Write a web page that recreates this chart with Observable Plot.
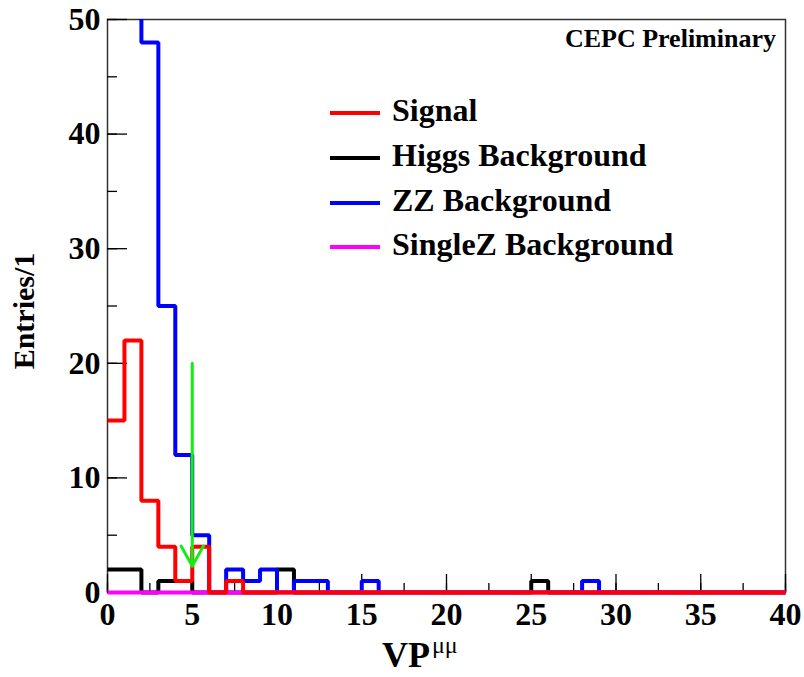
<!DOCTYPE html>
<html><head><meta charset="utf-8">
<script src="https://cdn.jsdelivr.net/npm/d3@7"></script>
<script src="https://cdn.jsdelivr.net/npm/@observablehq/plot@0.6"></script>
<style>body{margin:0;background:#fff}</style>
</head><body><div id="chart"></div>
<script>
// bin edges (bin width 1, 0..40)
const binEdges = d3.range(0, 41);
// series contents per bin (40 bins)
const signal  = [15,22,8,4,1,4,0,1,0,0, 0,0,0,0,0,0,0,0,0,0, 0,0,0,0,0,0,0,0,0,0, 0,0,0,0,0,0,0,0,0,0];
const higgs   = [2,2,0,1,1,0,0,0,0,0, 2,0,0,0,0,0,0,0,0,0, 0,0,0,0,0,1,0,0,0,0, 0,0,0,0,0,0,0,0,0,0];
const zz      = [100,70,48,25,12,5,0,2,1,2, 0,1,1,0,0,1,0,0,0,0, 0,0,0,0,0,0,0,0,1,0, 0,0,0,0,0,0,0,0,0,0];
const singleZ = [0,0,0,0,0,0,0,0,0,0, 0,0,0,0,0,0,0,0,0,0, 0,0,0,0,0,0,0,0,0,0, 0,0,0,0,0,0,0,0,0,0];

const seriesNames  = ["Signal", "Higgs Background", "ZZ Background", "SingleZ Background"];
const seriesColors = ["#ff0000", "#000000", "#0000ff", "#ff00ff"];

const xMajor = [0,5,10,15,20,25,30,35,40];
const xMinor = d3.range(0, 40.01, 2.5);
const yMajor = [0,10,20,30,40,50];
const yMinor = [0,5,10,15,20,25,30,35,40,45,50];

// cut arrow
const cutX = 5, cutTop = 20, cutTip = 2.3;

function steps(values) {
  return binEdges.map((x, i) => ({x, y: values[Math.min(i, values.length - 1)]}));
}

const font = "'Liberation Serif', 'DejaVu Serif', serif";
const lineOpts = (c) => ({x: "x", y: "y", curve: "step-after", stroke: c, strokeWidth: 4, strokeLinejoin: "miter", strokeLinecap: "butt"});

const svg = Plot.plot({
  width: 804, height: 677,
  marginLeft: 107, marginRight: 19, marginTop: 19, marginBottom: 85,
  style: {fontFamily: font, fontWeight: "bold", background: "#fff", color: "#000"},
  x: {domain: [0, 40]},
  y: {domain: [0, 50]},
  marks: [
    Plot.frame({stroke: "#333", strokeWidth: 1.5}),
    Plot.axisX({ticks: xMajor, tickSize: -18, tickFormat: () => "", label: null, strokeWidth: 1.3}),
    Plot.axisX({ticks: xMinor, tickSize: -9, tickFormat: () => "", label: null, strokeWidth: 1.3}),
    Plot.axisX({ticks: xMajor, tickSize: 0, tickPadding: 10, label: null, fontSize: 32, fontWeight: "bold", fontFamily: font}),
    Plot.axisY({ticks: yMajor, tickSize: -20, tickFormat: () => "", label: null, strokeWidth: 1.3}),
    Plot.axisY({ticks: yMinor, tickSize: -10, tickFormat: () => "", label: null, strokeWidth: 1.3}),
    Plot.axisY({ticks: yMajor, tickSize: 0, tickPadding: 7, label: null, fontSize: 32, fontWeight: "bold", fontFamily: font}),
    Plot.line(steps(higgs), lineOpts(seriesColors[1])),
    Plot.line(steps(zz), {...lineOpts(seriesColors[2]), clip: true}),
    Plot.line(steps(singleZ), lineOpts(seriesColors[3])),
    Plot.line(steps(signal), lineOpts(seriesColors[0])),
    Plot.arrow([{x1: cutX, y1: cutTop, x2: cutX, y2: cutTip}], {x1: "x1", y1: "y1", x2: "x2", y2: "y2", stroke: "#11ee11", strokeWidth: 3, headLength: 11.5, headAngle: 58})
  ]
});

const s = d3.select(svg);
// legend
const legY = [113, 158, 203, 247];
seriesNames.forEach((name, i) => {
  s.append("line").attr("x1", 330).attr("x2", 380).attr("y1", legY[i]).attr("y2", legY[i])
    .attr("stroke", seriesColors[i]).attr("stroke-width", 4);
  s.append("text").attr("x", 392).attr("y", legY[i] + 8).attr("text-anchor", "start").text(name)
    .attr("font-family", font).attr("font-weight", "bold").attr("font-size", 32).attr("fill", "#000");
});
// label
s.append("text").attr("x", 776).attr("y", 47).attr("text-anchor", "end").text("CEPC Preliminary")
  .attr("font-family", font).attr("font-weight", "bold").attr("font-size", 26).attr("fill", "#000");
// y title
s.append("text").attr("transform", "translate(34,311) rotate(-90)").attr("text-anchor", "middle")
  .text("Entries/1").attr("font-family", font).attr("font-weight", "bold").attr("font-size", 30).attr("fill", "#000");
// x title
const xt = s.append("text").attr("x", 382).attr("y", 667).attr("text-anchor", "start")
  .attr("font-family", font).attr("font-weight", "bold").attr("font-size", 36).attr("fill", "#000");
xt.append("tspan").text("VP");
xt.append("tspan").attr("dx", 2).attr("dy", -14).attr("font-size", 24).attr("font-weight", "normal").text("μμ");

document.getElementById("chart").append(svg);
</script></body></html>
